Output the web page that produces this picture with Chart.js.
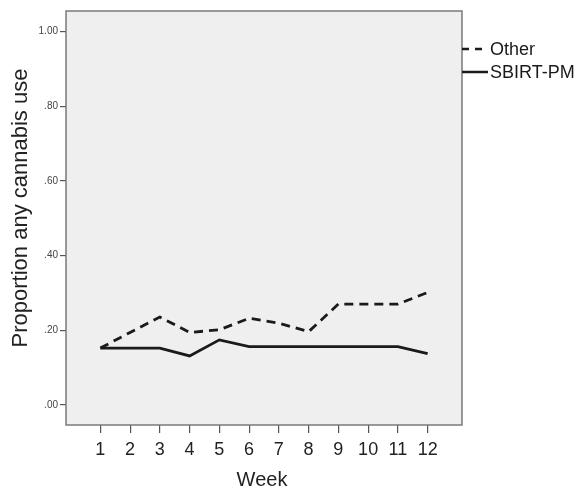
<!DOCTYPE html>
<html>
<head>
<meta charset="utf-8">
<script src="https://cdn.jsdelivr.net/npm/chart.js@4"></script>
<style>
  html, body { margin: 0; padding: 0; background: #fff; }
  #wrap { width: 584px; height: 490px; position: relative; }
</style>
</head>
<body>
<div id="wrap"><canvas id="c" width="584" height="490"></canvas></div>
<script>
// data
const weeks = [1, 2, 3, 4, 5, 6, 7, 8, 9, 10, 11, 12];
const otherVals = [0.152, 0.194, 0.235, 0.194, 0.201, 0.232, 0.219, 0.196, 0.270, 0.270, 0.270, 0.301];
const sbirtVals = [0.152, 0.152, 0.152, 0.131, 0.174, 0.156, 0.156, 0.156, 0.156, 0.156, 0.156, 0.137];
const yTicks = [0, 0.2, 0.4, 0.6, 0.8, 1.0];
const seriesNames = ['Other', 'SBIRT-PM'];

const FONT = "'Liberation Sans', Arial, sans-serif";

function fmtTick(v) {
  // SPSS style: ".20", "1.00"
  const s = v.toFixed(2);
  return s.startsWith('0') ? s.slice(1) : s;
}

// plot box, border, titles and legend
const boxPlugin = {
  id: 'box',
  beforeDatasetsDraw(chart) {
    const a = chart.chartArea;
    const ctx = chart.ctx;
    ctx.save();
    ctx.fillStyle = '#efefef';
    ctx.fillRect(a.left, a.top, a.right - a.left, a.bottom - a.top);
    ctx.restore();
  },
  afterDatasetsDraw(chart) {
    const a = chart.chartArea;
    const ctx = chart.ctx;
    ctx.save();
    ctx.strokeStyle = '#7a7a7a';
    ctx.lineWidth = 1.5;
    ctx.strokeRect(a.left, a.top, a.right - a.left, a.bottom - a.top);

    // axis titles
    ctx.fillStyle = '#222';
    ctx.font = '20px ' + FONT;
    ctx.textAlign = 'center';
    ctx.textBaseline = 'middle';
    ctx.fillText('Week', (a.left + a.right) / 2 - 2, 480);
    ctx.save();
    ctx.translate(21, 208);
    ctx.rotate(-Math.PI / 2);
    ctx.font = '22px ' + FONT;
    ctx.fillText('Proportion any cannabis use', 0, 0);
    ctx.restore();

    // legend
    const rows = [{ y: 49, dash: [7, 6] }, { y: 72, dash: [] }];
    rows.forEach((r, i) => {
      ctx.beginPath();
      ctx.setLineDash(r.dash);
      ctx.strokeStyle = '#1a1a1a';
      ctx.lineWidth = 2.5;
      ctx.moveTo(a.right, r.y);
      ctx.lineTo(a.right + 26, r.y);
      ctx.stroke();
      ctx.setLineDash([]);
      ctx.fillStyle = '#1a1a1a';
      ctx.font = '18px ' + FONT;
      ctx.textAlign = 'left';
      ctx.textBaseline = 'middle';
      ctx.fillText(seriesNames[i], a.right + 28, r.y + 1);
    });
    ctx.restore();
  }
};

new Chart(document.getElementById('c'), {
  type: 'line',
  data: {
    datasets: [
      {
        label: seriesNames[0],
        data: weeks.map((w, i) => ({ x: w, y: otherVals[i] })),
        borderColor: '#1a1a1a',
        borderWidth: 2.8,
        borderDash: [9, 6],
        pointRadius: 0,
        tension: 0,
        fill: false
      },
      {
        label: seriesNames[1],
        data: weeks.map((w, i) => ({ x: w, y: sbirtVals[i] })),
        borderColor: '#1a1a1a',
        borderWidth: 2.8,
        pointRadius: 0,
        tension: 0,
        fill: false
      }
    ]
  },
  options: {
    responsive: false,
    animation: false,
    layout: { padding: { left: 0, right: 122, top: 11, bottom: 0 } },
    plugins: {
      legend: { display: false },
      tooltip: { enabled: false }
    },
    scales: {
      x: {
        type: 'linear',
        min: -0.155,
        max: 13.155,
        afterBuildTicks: s => { s.ticks = weeks.map(v => ({ value: v })); },
        afterFit: s => { s.height = 65; },
        grid: { drawOnChartArea: false, tickLength: 8, color: '#555', lineWidth: 1.2 },
        border: { display: false },
        ticks: {
          color: '#222',
          font: { family: FONT, size: 18 },
          padding: 6,
          maxRotation: 0,
          autoSkip: false,
          callback: v => String(v)
        }
      },
      y: {
        min: -0.054,
        max: 1.055,
        afterBuildTicks: s => { s.ticks = yTicks.map(v => ({ value: v })); },
        afterFit: s => { s.width = 66; },
        grid: { drawOnChartArea: false, tickLength: 6, color: '#555', lineWidth: 1.2 },
        border: { display: false },
        ticks: {
          color: '#444',
          font: { family: FONT, size: 10 },
          padding: 2,
          callback: v => fmtTick(v)
        }
      }
    }
  },
  plugins: [boxPlugin]
});
</script>
</body>
</html>
